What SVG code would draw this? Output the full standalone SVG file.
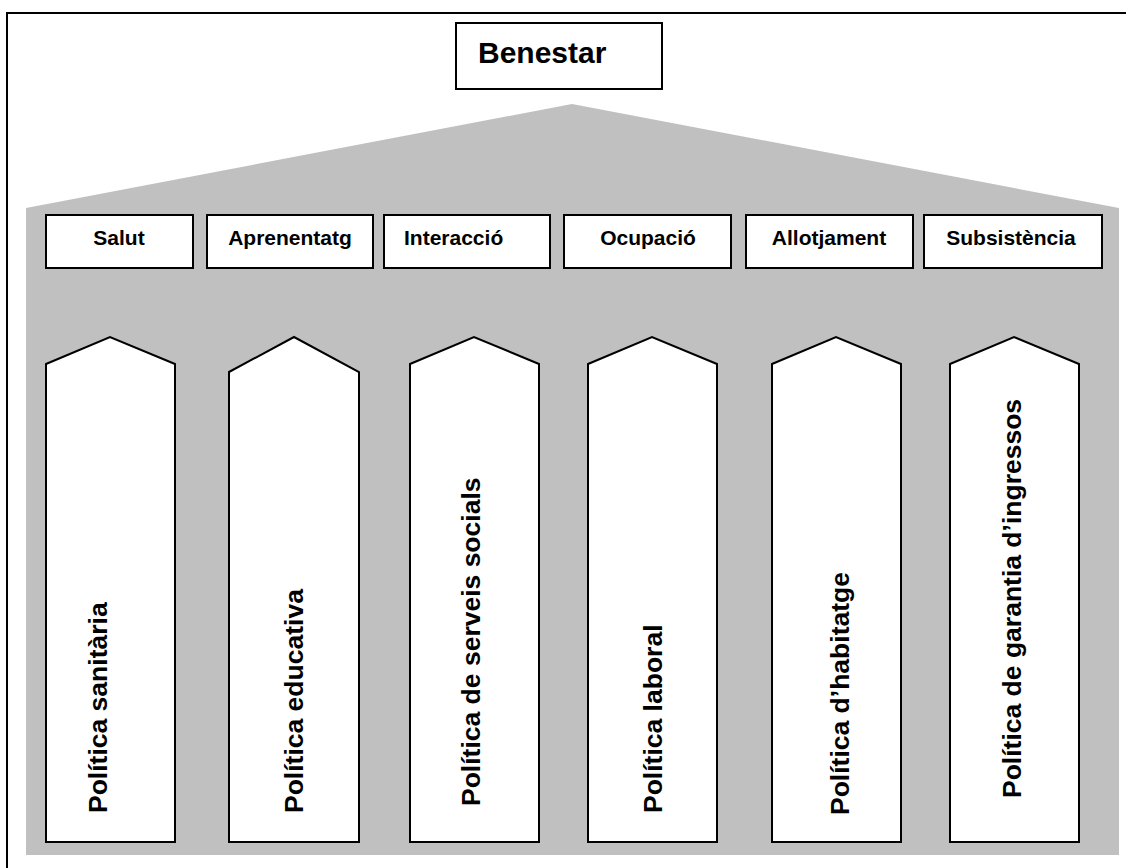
<svg xmlns="http://www.w3.org/2000/svg" width="1126" height="868" viewBox="0 0 1126 868">
<style>
.box{fill:#fff;stroke:#000;stroke-width:2}
.t{font-family:"Liberation Sans",Arial,sans-serif;font-weight:bold;fill:#000}
.c{font-size:21px;text-anchor:middle}
.v{font-size:26.5px}
</style>
<rect x="0" y="0" width="1126" height="868" fill="#fff"/>
<path d="M7,868 V13 H1126" fill="none" stroke="#000" stroke-width="2"/>
<polygon points="26,208 572,104 1119,208 1119,855 26,855" fill="#c0c0c0"/>
<g id="benestar">
<rect class="box" x="456" y="23" width="206" height="66"/>
<text class="t" x="478" y="63" font-size="30">Benestar</text>
</g>
<g id="cat-salut"><rect class="box" x="46" y="215" width="147" height="53"/><text class="t c" x="119" y="245">Salut</text></g>
<g id="cat-aprenentatg"><rect class="box" x="207" y="215" width="166" height="53"/><text class="t c" x="290" y="245">Aprenentatg</text></g>
<g id="cat-interaccio"><rect class="box" x="384" y="215" width="166" height="53"/><text class="t" font-size="21" x="404" y="245">Interacció</text></g>
<g id="cat-ocupacio"><rect class="box" x="564" y="215" width="167" height="53"/><text class="t c" x="648" y="245">Ocupació</text></g>
<g id="cat-allotjament"><rect class="box" x="746" y="215" width="167" height="53"/><text class="t c" x="829" y="245">Allotjament</text></g>
<g id="cat-subsistencia"><rect class="box" x="924" y="215" width="178" height="53"/><text class="t c" x="1011" y="245">Subsistència</text></g>
<g id="pillar-sanitaria"><polygon class="box" points="46,364 110,337 175,364 175,842 46,842"/><text class="t v" transform="translate(107,813) rotate(-90)">Política sanitària</text></g>
<g id="pillar-educativa"><polygon class="box" points="229,372 294,337 359,372 359,842 229,842"/><text class="t v" transform="translate(303,813) rotate(-90)">Política educativa</text></g>
<g id="pillar-serveis"><polygon class="box" points="410,364 474,337 539,364 539,842 410,842"/><text class="t v" transform="translate(480,806) rotate(-90)" font-size="29">Política de serveis socials</text></g>
<g id="pillar-laboral"><polygon class="box" points="588,364 652,337 717,364 717,842 588,842"/><text class="t v" transform="translate(662,813) rotate(-90)">Política laboral</text></g>
<g id="pillar-habitatge"><polygon class="box" points="772,364 836,337 901,364 901,842 772,842"/><text class="t v" transform="translate(849,815) rotate(-90)">Política d’habitatge</text></g>
<g id="pillar-ingressos"><polygon class="box" points="950,364 1014,337 1079,364 1079,842 950,842"/><text class="t v" transform="translate(1021,798) rotate(-90)">Política de garantia d’ingressos</text></g>
<g id="connectors"></g>
</svg>
